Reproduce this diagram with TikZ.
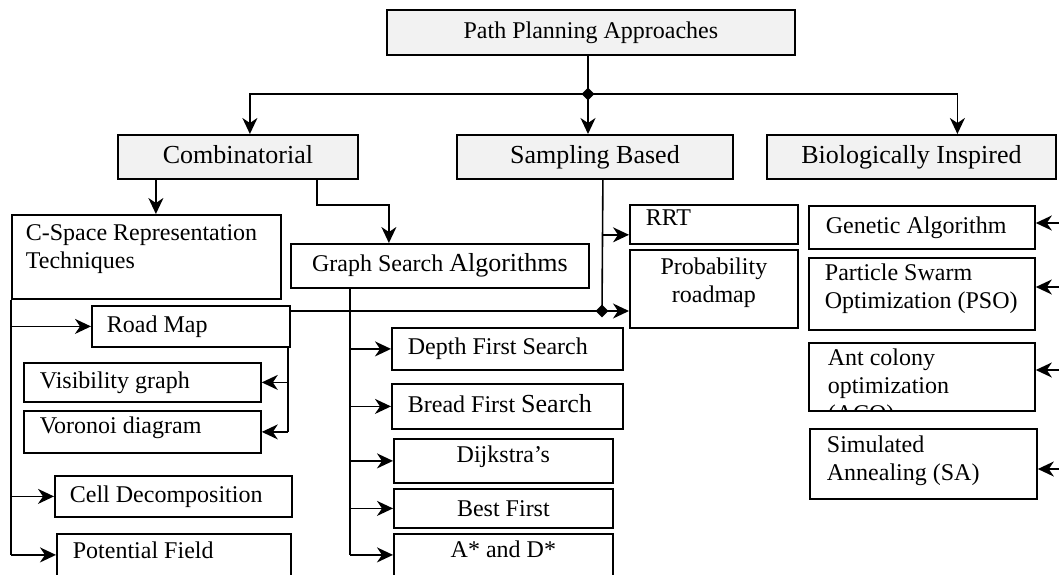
\documentclass[tikz,border=0pt]{standalone}
\usepackage{fontspec}
\setmainfont{Liberation Serif}
\usetikzlibrary{arrows.meta,calc,shapes.geometric}
\definecolor{boxgray}{HTML}{F2F2F2}
\newcommand{\bigsz}{\fontsize{26}{30}\selectfont}

\begin{document}
\begin{tikzpicture}[x=1pt,y=-1pt,
    pbox/.style={draw,line width=1.8pt,anchor=north west,inner ysep=0pt,
      text height=17pt,text depth=5pt,font=\fontsize{24}{28}\selectfont},
    headbox/.style={pbox,fill=boxgray,text height=18pt,font=\bigsz},
    wire/.style={line width=1.6pt},
    conn/.style={wire,-{Stealth[length=16pt,width=15pt,inset=5pt]}},
    jdot/.style={diamond,fill=black,inner sep=0pt,minimum width=13pt,minimum height=13pt}]
    \path[use as bounding box,clip] (0,0) rectangle (1059,574);

    % top levels
    \node[pbox,fill=boxgray,minimum width=408pt,minimum height=45pt] (root) at (386,9) {Path Planning Approaches};
    \node[headbox,minimum width=240pt,minimum height=44pt] (comb) at (117,134) {Combinatorial};
    \node[headbox,minimum width=276pt,minimum height=44pt] (samp) at (456,134) {Sampling Based};
    \node[headbox,minimum width=289pt,minimum height=44pt] (bio) at (766,134) {Biologically Inspired};

    % combinatorial
    \node[pbox,minimum width=269pt,minimum height=84pt,text width=241pt,inner xsep=14pt,align=flush left,
      text height=17pt,text depth=49pt] (cspace) at (11,214) {C-Space Representation\\Techniques};
    \node[pbox,minimum width=198pt,minimum height=41pt,text width=168pt,inner xsep=15pt,align=flush left] (roadmap) at (91,305) {Road Map};
    \node[pbox,minimum width=237pt,minimum height=39pt,text width=205pt,inner xsep=16pt,align=flush left] (visib) at (23,362) {Visibility graph};
    \node[pbox,minimum width=237pt,minimum height=42pt,text width=205pt,inner xsep=16pt,align=flush left,
      text depth=13pt] (voronoi) at (23,410) {Voronoi diagram};
    \node[pbox,minimum width=237pt,minimum height=41pt,text width=207pt,inner xsep=15pt,align=flush left] (celld) at (54,475) {Cell Decomposition};
    \node[pbox,minimum width=234pt,minimum height=42pt,text width=202pt,inner xsep=16pt,align=flush left,
      text height=17pt,text depth=9pt] (pfield) at (56,533) {Potential Field};

    % graph search
    \node[pbox,minimum width=298pt,minimum height=44pt] (gsearch) at (290,243) {Graph Search {\bigsz Algorithms}};
    \node[pbox,minimum width=231pt,minimum height=42pt,text width=199pt,inner xsep=16pt,align=flush left] (dfs) at (391,327) {Depth First Search};
    \node[pbox,minimum width=231pt,minimum height=45pt,text width=199pt,inner xsep=16pt,align=flush left] (bfs) at (391,383) {Bread First {\bigsz Search}};
    \node[pbox,minimum width=219pt,minimum height=44pt,text depth=13pt] (dijk) at (393,438) {Dijkstra’s};
    \node[pbox,minimum width=219pt,minimum height=39pt,text depth=1pt] (best) at (393,488) {Best First};
    \node[pbox,minimum width=219pt,minimum height=42pt,text height=17pt,text depth=11pt] (astar) at (393,533) {A* and D*};

    % sampling
    \node[pbox,minimum width=168pt,minimum height=39pt,text width=136pt,inner xsep=16pt,align=flush left,
      text height=16pt,text depth=13pt] (rrt) at (629,204) {RRT};
    \node[pbox,minimum width=168pt,minimum height=78pt,text width=136pt,inner xsep=16pt,align=center,
      text height=17pt,text depth=45pt] (prob) at (629,249) {Probability\\roadmap};

    % biologically inspired
    \node[pbox,minimum width=226pt,minimum height=43pt,text width=192pt,inner xsep=17pt,align=flush left] (genetic) at (808,205) {Genetic Algorithm};
    \node[pbox,minimum width=226pt,minimum height=72pt,text width=194pt,inner xsep=16pt,align=flush left,
      text height=17pt,text depth=43pt] (pso) at (808,257) {Particle Swarm\\Optimization~(PSO)};
    \node[pbox,minimum width=226pt,minimum height=68pt,
      path picture={\node[draw=none,fill=none,anchor=base west,minimum width=0pt,minimum height=0pt,
        text width=194pt,align=flush left,inner sep=0pt,font=\fontsize{24}{28}\selectfont] (acotxt)
        at ([xshift=18pt,yshift=-23pt]path picture bounding box.north west) {Ant colony\\optimization\\(ACO)};}] (aco) at (808,342) {};
    \node[pbox,minimum width=227pt,minimum height=70pt,text width=193pt,inner xsep=17pt,align=flush left,
      text height=17pt,text depth=39pt] (sa) at (809,428) {Simulated\\Annealing~(SA)};

    % junctions
    \node[jdot] (j1) at (588,94) {};
    \node[jdot] (j2) at (602,311) {};

    % connectors from the root
    \draw[wire] (root.south -| j1) -- (j1.center);
    \draw[conn] (j1.center) -- (j1 |- samp.north);
    \draw[conn] (j1.center) -| ([xshift=12pt]comb.north);
    \draw[conn] (j1.center) -| ([xshift=46pt]bio.north);

    % combinatorial branches
    \coordinate (cdown) at ([xshift=-82pt]comb.south);
    \draw[conn] (cdown) -- (cdown |- cspace.north);
    \coordinate (gdown) at ([xshift=79pt]comb.south);
    \draw[conn] (gdown) -- ++(0,25) -| ([xshift=-51pt]gsearch.north);

    \draw[wire] (cspace.south west) -- (cspace.south west |- pfield.west);
    \foreach \n in {roadmap,celld,pfield}
      \draw[conn] (cspace.south west |- \n.west) -- (\n.west);

    \coordinate (vrail) at ([xshift=-3pt]roadmap.south east);
    \draw[wire] (vrail) -- (vrail |- voronoi.east);
    \foreach \n in {visib,voronoi}
      \draw[conn] (vrail |- \n.east) -- (\n.east);

    \coordinate (grail) at ([xshift=60pt]gsearch.south west);
    \draw[wire] (grail) -- (grail |- astar.west);
    \foreach \n in {dfs,bfs,dijk,best,astar}
      \draw[conn] (grail |- \n.west) -- (\n.west);

    % sampling branches
    \coordinate (sdown) at ([xshift=8pt]samp.south);
    \draw[wire] (sdown) -- (j2.center);
    \coordinate (rrtin) at ([yshift=10pt]rrt.south west);
    \draw[conn] (sdown |- rrtin) -- (rrtin);
    \draw[wire] (roadmap.east |- j2) -- (j2.center);
    \draw[conn] (j2.center) -- (j2 -| prob.west);

    % biologically inspired branches
    \foreach \n/\y in {genetic/223,pso/287,aco/370,sa/469}{
      \coordinate (\n-in) at (1059,\y);
      \draw[conn] (\n-in) -- (\n-in -| \n.east);
    }
\end{tikzpicture}
\end{document}
